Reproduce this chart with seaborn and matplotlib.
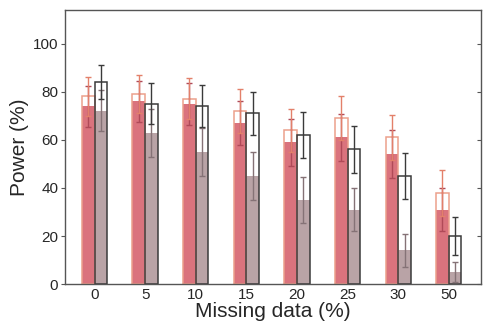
import numpy as np
import pandas as pd
import matplotlib
matplotlib.use('Agg')
import matplotlib.pyplot as plt
import seaborn as sns

# missing data levels
missing = ['0', '5', '10', '15', '20', '25', '30', '50']

# group A (red) - hollow (upper) and filled (lower) bars
red_hollow = [78, 79, 77, 72, 64, 69, 61, 38]
red_hollow_err = [8, 8, 8.5, 9, 9, 9, 9.5, 9.5]
red_fill = [74, 76, 75, 67, 59, 61, 54, 31]
red_fill_err = [8.5, 8.5, 8.7, 9.3, 9.7, 9.7, 10, 9]

# group B (black/grey) - hollow (upper) and filled (lower) bars
blk_hollow = [84, 75, 74, 71, 62, 56, 45, 20]
blk_hollow_err = [7, 8.5, 8.6, 9, 9.5, 9.7, 9.6, 7.8]
gry_fill = [72, 63, 55, 45, 35, 31, 14, 5]
gry_fill_err = [8.5, 10, 10, 10, 9.5, 9, 6.7, 4.3]

df_fill = pd.DataFrame({
    'missing': missing * 2,
    'group': ['A'] * 8 + ['B'] * 8,
    'power': red_fill + gry_fill,
})
df_hollow = pd.DataFrame({
    'missing': missing * 2,
    'group': ['A'] * 8 + ['B'] * 8,
    'power': red_hollow + blk_hollow,
})

sns.set_style('white')
plt.rcParams['font.family'] = ['Liberation Sans', 'DejaVu Sans']

fig = plt.figure(figsize=(4.9, 3.3), dpi=100)
ax = fig.add_axes([0.133, 0.139, 0.849, 0.831])

n0 = len(ax.patches)
sns.barplot(data=df_fill, x='missing', y='power', hue='group', order=missing,
            palette={'A': '#da737d', 'B': '#b9a3a6'}, width=0.5, gap=0,
            saturation=1, errorbar=None, legend=False, linewidth=0, ax=ax)
fill_patches = sorted(ax.patches[n0:], key=lambda p: p.get_x())
n1 = len(ax.patches)
sns.barplot(data=df_hollow, x='missing', y='power', hue='group', order=missing,
            palette={'A': '#eca08c', 'B': '#3a3a3a'}, width=0.5, gap=0,
            saturation=1, errorbar=None, legend=False, fill=False,
            linewidth=1.1, ax=ax)
hollow_patches = sorted(ax.patches[n1:], key=lambda p: p.get_x())


# error bars from bar centres
def add_err(patches, vals, errs, colors):
    for k, p in enumerate(patches):
        xc = p.get_x() + p.get_width() / 2
        g = k % 2
        i = k // 2
        ax.errorbar(xc, vals[g][i], yerr=errs[g][i], fmt='none',
                    ecolor=colors[g], elinewidth=1.0, capsize=2.5, capthick=1.0,
                    zorder=5)


add_err(fill_patches, [red_fill, gry_fill], [red_fill_err, gry_fill_err],
        ['#b04a58', '#857276'])
add_err(hollow_patches, [red_hollow, blk_hollow], [red_hollow_err, blk_hollow_err],
        ['#e3806a', '#3a3a3a'])

ax.set_xlim(-0.58, 7.64)
ax.set_ylim(0, 114)
ax.set_yticks([0, 20, 40, 60, 80, 100])
ax.set_xlabel('Missing data (%)', fontsize=15, labelpad=0)
ax.set_ylabel('Power (%)', fontsize=15, labelpad=3)
ax.tick_params(axis='x', length=0, labelsize=11, pad=3)
ax.tick_params(axis='y', length=3, labelsize=11, direction='out', left=True,
               right=False, color='#555555', width=0.8, pad=2)
sec = ax.secondary_yaxis('right')
sec.set_yticks([0, 20, 40, 60, 80, 100])
sec.tick_params(direction='in', length=3, labelright=False, color='#555555',
                width=0.8)
sec.spines['right'].set_visible(False)
for s in ax.spines.values():
    s.set_color('#555555')
    s.set_linewidth(1.0)

fig.savefig('out.png', dpi=100)
